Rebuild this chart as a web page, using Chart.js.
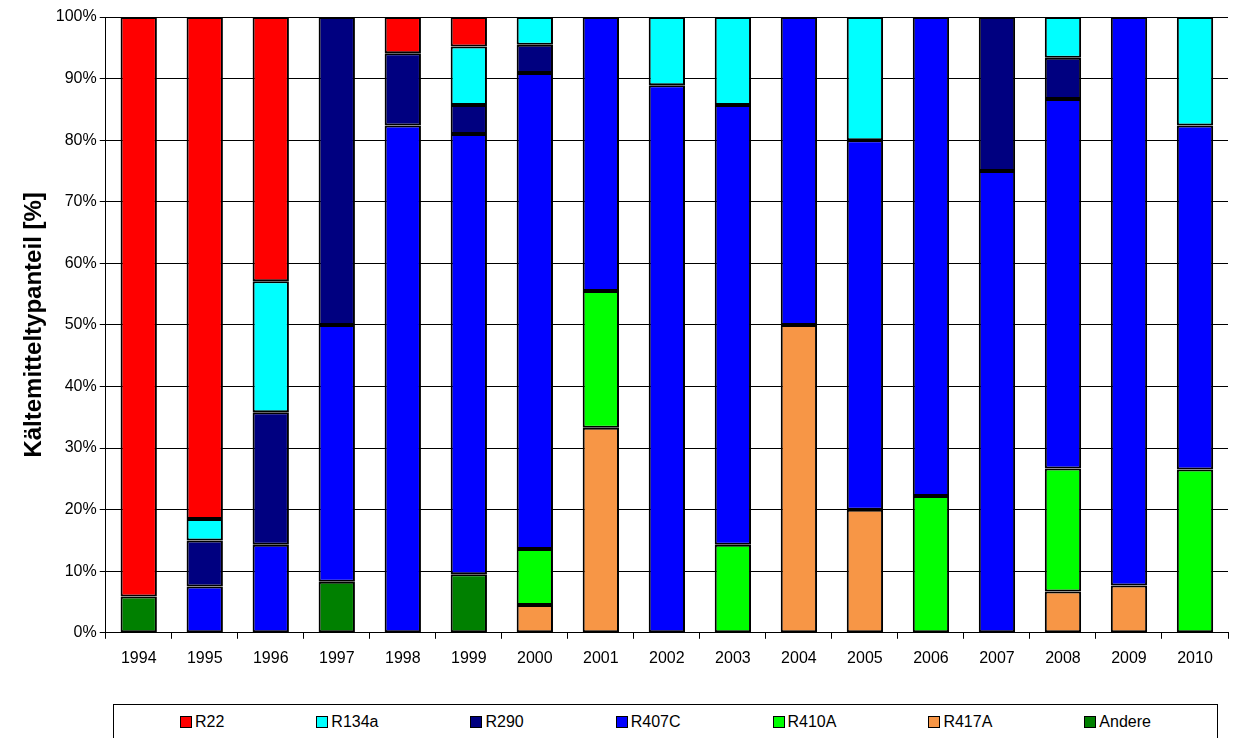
<!DOCTYPE html>
<html><head><meta charset="utf-8">
<script src="https://cdn.jsdelivr.net/npm/chart.js@4/dist/chart.umd.min.js"></script>
<style>
body{margin:0;background:#fff;font-family:"Liberation Sans",Arial,sans-serif;}
#wrap{position:absolute;left:0;top:0;width:1236px;height:678px;}
#legend{position:absolute;left:113px;top:704px;width:1105px;height:34px;border:1px solid #000;border-bottom:none;display:flex;justify-content:space-around;align-items:center;font-size:16px;padding:0 20px;box-sizing:border-box;}
#legend span.i{display:flex;align-items:center;}
#legend span.b{display:inline-block;width:10px;height:10px;border:1px solid #000;margin-right:3px;}
</style></head><body>
<div id="wrap"><canvas id="c"></canvas></div>
<div id="legend"></div>
<script>
const years=["1994","1995","1996","1997","1998","1999","2000","2001","2002","2003","2004","2005","2006","2007","2008","2009","2010"];
const andere=[5.9,0,0,8.3,0,9.5,0,0,0,0,0,0,0,0,0,0,0];
const r417a=[0,0,0,0,0,0,4.5,33.3,0,0,50,20,0,0,6.7,7.7,0];
const r410a=[0,0,0,0,0,0,9.1,22.2,0,14.3,0,0,22.2,0,20,0,26.5];
const r407c=[0,7.5,14.3,41.7,82.4,71.5,77.3,44.5,88.9,71.4,50,60,77.8,75,60,92.3,55.9];
const r290=[0,7.5,21.5,50,11.7,4.7,4.6,0,0,0,0,0,0,25,6.7,0,0];
const r134a=[0,3.5,21.3,0,0,9.5,4.5,0,11.1,14.3,0,20,0,0,6.6,0,17.6];
const r22=[94.1,81.5,42.9,0,5.9,4.8,0,0,0,0,0,0,0,0,0,0,0];
const series=[["Andere",andere,"#008000"],["R417A",r417a,"#F79646"],["R410A",r410a,"#00FF00"],["R407C",r407c,"#0000FF"],["R290",r290,"#000080"],["R134a",r134a,"#00FFFF"],["R22",r22,"#FF0000"]];
const ticks=["0%","10%","20%","30%","40%","50%","60%","70%","80%","90%","100%"];
new Chart(document.getElementById('c'),{type:'bar',
data:{labels:years,datasets:series.map(s=>({label:s[0],data:s[1].map(v=>v===0?null:v),backgroundColor:s[2],borderColor:'#000',borderWidth:2,borderSkipped:false,barPercentage:0.55,categoryPercentage:1}))},
options:{responsive:true,maintainAspectRatio:false,animation:false,
layout:{padding:{left:16,right:8,top:17,bottom:0}},
plugins:{legend:{display:false},tooltip:{enabled:false}},
scales:{x:{stacked:true,grid:{display:true,drawOnChartArea:false,color:'#000',tickLength:6,offset:true},border:{color:'#000'},ticks:{color:'#000',font:{size:16,family:"Liberation Sans"},padding:10}},
y:{stacked:true,min:0,max:100,afterBuildTicks:a=>{a.ticks=ticks.map((t,i)=>({value:i*10}));},
grid:{color:'#000',tickLength:6},border:{color:'#000'},
ticks:{color:'#000',font:{size:16,family:"Liberation Sans"},callback:(v,i)=>ticks[i]},
title:{display:true,text:"Kältemitteltypanteil [%]",color:'#000',font:{size:24,weight:'bold',family:"Liberation Sans"}}}}}});
const lg=document.getElementById('legend');
[...series].reverse().forEach(s=>{const e=document.createElement('span');e.className='i';e.innerHTML='<span class="b" style="background:'+s[2]+'"></span>'+s[0];lg.appendChild(e);});
</script></body></html>
